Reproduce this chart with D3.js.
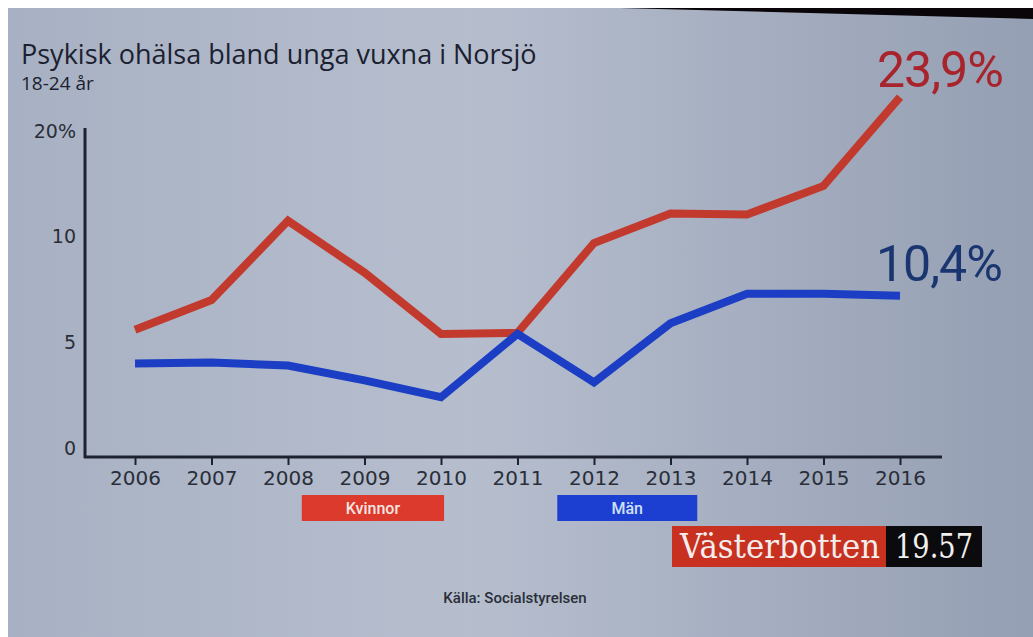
<!DOCTYPE html>
<html lang="sv">
<head>
<meta charset="utf-8">
<style>
  body { margin: 0; background: #fff; }
  svg { display: block; }
  .title { font-family: "Open Sans", sans-serif; font-size: 27px; fill: #1b2130; }
  .sub { font-family: "Open Sans", sans-serif; font-size: 19px; fill: #1b2130; }
  .tick text { font-family: "DejaVu Sans", sans-serif; font-size: 20px; fill: #2a2e38; }
  .ylab { font-family: "DejaVu Sans", sans-serif; font-size: 19px; fill: #2a2e38; }
  .endlab { font-family: Roboto, sans-serif; font-size: 50px; letter-spacing: -1px; }
  .key { font-family: Roboto, sans-serif; font-size: 16px; font-weight: 500; }
  .vb { font-family: "DejaVu Serif", serif; font-size: 33px; fill: #f2eeee; }
  .src { font-family: Roboto, sans-serif; font-size: 15px; font-weight: 500; fill: #2a2e38; }
</style>
</head>
<body>
<script src="https://cdn.jsdelivr.net/npm/d3@7"></script>
<script>

// data (y axis of the original is not linear: 0, 5, 10, 20)
var years = [2006, 2007, 2008, 2009, 2010, 2011, 2012, 2013, 2014, 2015, 2016];
var kvinnor = [5.6, 7.0, 11.5, 8.3, 5.4, 5.45, 9.7, 12.2, 12.1, 14.8, 23.2];
var man = [4.0, 4.05, 3.9, 3.2, 2.4, 5.4, 3.1, 5.9, 7.3, 7.3, 7.2];
var yTicks = [0, 5, 10, 20];
var yTickLabels = ["0", "5", "10", "20%"];
var endLabels = ["23,9%", "10,4%"];

var width = 1033,
    height = 637;

var svg = d3.select("body")
            .append("svg")
            .attr("width", width)
            .attr("height", height);

// background of the screen photo
var defs = svg.append("defs");
var bg = defs.append("linearGradient").attr("id", "bg");
bg.append("stop").attr("offset", "0%").attr("stop-color", "#a8b1c3");
bg.append("stop").attr("offset", "45%").attr("stop-color", "#b6bece");
bg.append("stop").attr("offset", "100%").attr("stop-color", "#959fb3");

svg.append("rect").attr("x", 8).attr("y", 8)
   .attr("width", width - 8).attr("height", height - 8)
   .attr("fill", "url(#bg)");
// dark bezel edge at the top right
svg.append("path")
   .attr("d", "M620,8 L1033,8 L1033,19 Z")
   .attr("fill", "#0a0508");

// scales
var plotTop = 131, plotZero = 448, h = plotZero - plotTop;
var x = d3.scalePoint().domain(years).range([135, 900]);
var y = d3.scaleLinear()
    .domain(yTicks)
    .range([plotZero, plotZero - h / 3, plotZero - 2 * h / 3, plotTop]);

var axisY = 457, axisX = 85;

// title
svg.append("text").attr("class", "title").attr("x", 21).attr("y", 64)
   .text("Psykisk ohälsa bland unga vuxna i Norsjö");
svg.append("text").attr("class", "sub").attr("x", 21).attr("y", 90)
   .text("18-24 år");

// axes lines
svg.append("line")
   .attr("x1", axisX).attr("x2", axisX)
   .attr("y1", 128).attr("y2", axisY + 1)
   .attr("stroke", "#1e2230").attr("stroke-width", 3);
svg.append("line")
   .attr("x1", axisX - 1).attr("x2", 942)
   .attr("y1", axisY).attr("y2", axisY)
   .attr("stroke", "#1e2230").attr("stroke-width", 3);

// x axis ticks + labels
var xAxis = svg.append("g")
    .attr("transform", "translate(0," + axisY + ")")
    .call(d3.axisBottom(x).tickSize(8).tickPadding(6));
xAxis.select(".domain").remove();
xAxis.selectAll(".tick line").attr("stroke", "#1e2230").attr("stroke-width", 2);

// y labels
svg.selectAll(".ylab")
   .data(yTicks)
   .enter().append("text")
     .attr("class", "ylab")
     .attr("x", 76)
     .attr("y", function(d) { return y(d); })
     .attr("dy", "0.35em")
     .attr("text-anchor", "end")
     .text(function(d, i) { return yTickLabels[i]; });

// lines
var line = d3.line()
    .x(function(d, i) { return x(years[i]); })
    .y(function(d) { return y(d); });

svg.append("path")
   .datum(kvinnor)
   .attr("d", line)
   .attr("fill", "none")
   .attr("stroke", "#c23a2e")
   .attr("stroke-width", 8)
   .attr("stroke-linejoin", "miter");

svg.append("path")
   .datum(man)
   .attr("d", line)
   .attr("fill", "none")
   .attr("stroke", "#1b3ec4")
   .attr("stroke-width", 8)
   .attr("stroke-linejoin", "miter");

// end labels
svg.append("text").attr("class", "endlab")
   .attr("x", 877).attr("y", 87)
   .attr("fill", "#a8242c")
   .text(endLabels[0]);
svg.append("text").attr("class", "endlab")
   .attr("x", 876).attr("y", 281)
   .attr("fill", "#1a3670")
   .text(endLabels[1]);

// legend boxes
var keys = [
  {name: "Kvinnor", fill: "#dc3a2c", text: "#f4e6e2", x0: 2008.18, x1: 2010.04},
  {name: "Män", fill: "#1c3fd2", text: "#cfe0f6", x0: 2011.52, x1: 2013.35}
];
var keyX = d3.scaleLinear().domain([2006, 2016]).range([135, 900]);
var key = svg.selectAll(".keybox")
    .data(keys)
    .enter().append("g");
key.append("rect")
   .attr("x", function(d) { return keyX(d.x0); })
   .attr("y", 495)
   .attr("width", function(d) { return keyX(d.x1) - keyX(d.x0); })
   .attr("height", 26)
   .attr("fill", function(d) { return d.fill; });
key.append("text")
   .attr("class", "key")
   .attr("x", function(d) { return (keyX(d.x0) + keyX(d.x1)) / 2; })
   .attr("y", 514)
   .attr("text-anchor", "middle")
   .attr("fill", function(d) { return d.text; })
   .text(function(d) { return d.name; });

// channel tag
svg.append("rect").attr("x", 672).attr("y", 526).attr("width", 214).attr("height", 41)
   .attr("fill", "#c8311f");
svg.append("rect").attr("x", 886).attr("y", 526).attr("width", 96).attr("height", 41)
   .attr("fill", "#0b0b0d");
svg.append("text").attr("class", "vb").attr("x", 680).attr("y", 558)
   .attr("textLength", 200).attr("lengthAdjust", "spacingAndGlyphs")
   .text("Västerbotten");
svg.append("text").attr("class", "vb").attr("x", 895).attr("y", 558)
   .attr("textLength", 78).attr("lengthAdjust", "spacingAndGlyphs")
   .text("19.57");

// source
svg.append("text").attr("class", "src")
   .attr("x", 515).attr("y", 603)
   .attr("text-anchor", "middle")
   .text("Källa: Socialstyrelsen");

</script>
</body>
</html>
